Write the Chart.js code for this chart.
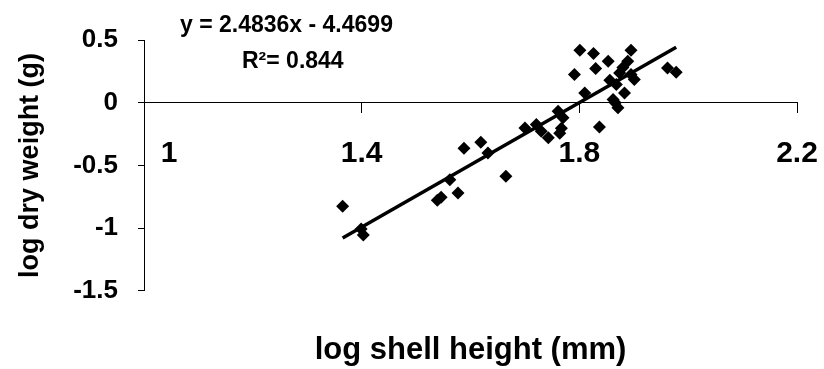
<!DOCTYPE html>
<html>
<head>
<meta charset="utf-8">
<script src="https://cdn.jsdelivr.net/npm/chart.js@4"></script>
<style>
  body { margin: 0; background: #fff; }
  canvas { display: block; }
</style>
</head>
<body>
<canvas id="shellChart" width="824" height="369"></canvas>
<script>
// log shell height (mm) vs log dry weight (g), one entry per animal
const shellHeight = [
  1.365, 1.399, 1.403, 1.539, 1.546, 1.577, 1.562, 1.588, 1.619, 1.632,
  1.665, 1.700, 1.721, 1.730, 1.743, 1.761, 1.770, 1.767, 1.764, 1.810,
  1.837, 1.801, 1.826, 1.895, 1.853, 1.830, 1.791, 1.889, 1.962, 1.978,
  1.874, 1.901, 1.868, 1.862, 1.871, 1.895, 1.883, 1.880, 1.856, 1.866
];
const dryWeight = [
  -0.825, -1.008, -1.056, -0.777, -0.753, -0.721, -0.614, -0.363, -0.315, -0.402,
  -0.586, -0.201, -0.174, -0.227, -0.280, -0.068, -0.121, -0.203, -0.243, 0.078,
  -0.193, 0.418, 0.392, 0.418, 0.331, 0.273, 0.225, 0.331, 0.277, 0.243,
  0.237, 0.185, 0.145, 0.025, -0.041, 0.225, 0.078, 0.280, 0.180, 0.000
];
const xTicks = [1, 1.4, 1.8, 2.2];
const yTicks = [-1.5, -1, -0.5, 0, 0.5];

// fitted power curve (log-log linear fit)
const slope = 2.4836;
const intercept = -4.4699;
const rSquared = 0.844;

const points = shellHeight.map((x, i) => ({ x: x, y: dryWeight[i] }));
const xMin = Math.min(...shellHeight);
const xMax = Math.max(...shellHeight);
const fitLine = [xMin, xMax].map(x => ({ x: x, y: slope * x + intercept }));

Chart.defaults.font.family = "'Liberation Sans', Arial, sans-serif";
Chart.defaults.color = '#000';

const equationLabel = {
  id: 'equationLabel',
  afterDraw(chart) {
    const { ctx, chartArea } = chart;
    ctx.save();
    ctx.fillStyle = '#000';
    ctx.font = "bold 23px 'Liberation Sans', Arial, sans-serif";
    ctx.textBaseline = 'alphabetic';
    ctx.fillText('y = ' + slope + 'x - ' + Math.abs(intercept), chartArea.left + 36, chartArea.top - 8);
    ctx.fillText('R\u00b2= ' + rSquared, chartArea.left + 98, chartArea.top + 28);
    ctx.restore();
  }
};

new Chart(document.getElementById('shellChart'), {
  type: 'scatter',
  data: {
    datasets: [
      {
        data: points,
        pointStyle: 'rectRot',
        pointRadius: 6.5,
        backgroundColor: '#000',
        borderColor: '#000',
        borderWidth: 0
      },
      {
        data: fitLine,
        showLine: true,
        borderColor: '#000',
        borderWidth: 3.5,
        pointRadius: 0
      }
    ]
  },
  plugins: [equationLabel],
  options: {
    responsive: false,
    animation: false,
    events: [],
    layout: { padding: { top: 40, right: 27, left: 0, bottom: 0 } },
    plugins: {
      legend: { display: false },
      tooltip: { enabled: false },
      title: {
        display: true,
        position: 'bottom',
        fullSize: false,
        text: 'log shell height (mm)',
        font: { size: 31, weight: 'bold' },
        padding: { top: 41, bottom: 0 }
      }
    },
    scales: {
      x: {
        type: 'linear',
        position: { y: 0 },
        min: xTicks[0],
        max: xTicks[xTicks.length - 1],
        afterBuildTicks(scale) {
          scale.ticks = xTicks.map(v => ({ value: v }));
        },
        afterFit(scale) {
          scale.height = 42;
          scale.paddingLeft = 0;
          scale.paddingRight = 0;
        },
        border: { display: true, color: '#000', width: 1 },
        grid: { drawOnChartArea: false, drawTicks: true, tickLength: 10, color: '#000' },
        ticks: {
          padding: 23,
          font: { size: 30, weight: 'bold' },
          maxRotation: 0,
          callback: v => v === 1 ? '      1' : v.toFixed(1)
        }
      },
      y: {
        type: 'linear',
        position: 'left',
        min: yTicks[0],
        max: yTicks[yTicks.length - 1],
        afterBuildTicks(scale) {
          scale.ticks = yTicks.map(v => ({ value: v }));
        },
        afterFit(scale) { scale.width = 144; },
        border: { display: true, color: '#000', width: 1 },
        grid: { drawOnChartArea: false, drawTicks: true, tickLength: 6, color: '#000' },
        ticks: {
          padding: 20,
          font: { size: 26, weight: 'bold' },
          callback: v => String(v)
        },
        title: {
          display: true,
          text: 'log dry weight (g)',
          font: { size: 27, weight: 'bold' },
          padding: { top: 14, bottom: 0 }
        }
      }
    }
  }
});
</script>
</body>
</html>
